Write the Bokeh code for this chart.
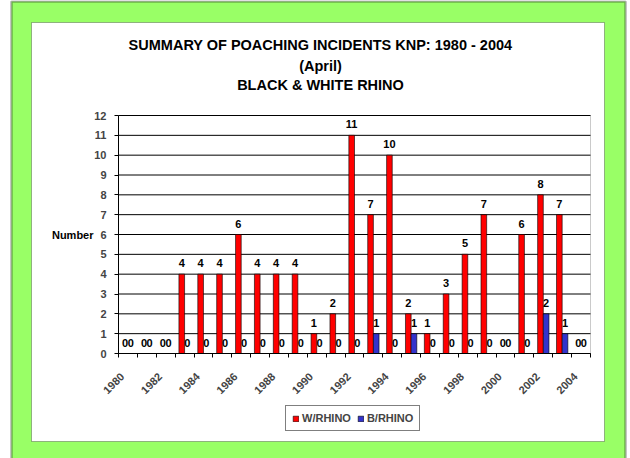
import math
from bokeh.plotting import figure
from bokeh.models import (ColumnDataSource, Range1d, FixedTicker, Legend, LegendItem,
                          LinearAxis, BoxAnnotation, Label)
from bokeh.core.properties import value
from bokeh.embed import file_html
from bokeh.resources import INLINE

# ---- data ----
years = [1980, 1981, 1982, 1983, 1984, 1985, 1986, 1987, 1988, 1989, 1990, 1991, 1992,
         1993, 1994, 1995, 1996, 1997, 1998, 1999, 2000, 2001, 2002, 2003, 2004]
w_rhino = [0, 0, 0, 4, 4, 4, 6, 4, 4, 4, 1, 2, 11, 7, 10, 2, 1, 3, 5, 7, 0, 6, 8, 7, 0]
b_rhino = [0, 0, 0, 0, 0, 0, 0, 0, 0, 0, 0, 0, 0, 1, 0, 1, 0, 0, 0, 0, 0, 0, 2, 1, 0]
tick_years = [1980, 1982, 1984, 1986, 1988, 1990, 1992, 1994, 1996, 1998, 2000, 2002, 2004]
tick_labels = ["1980", "1982", "1984", "1986", "1988", "1990", "1992", "1994", "1996",
               "1998", "2000", "2002", "2004"]
y_ticks = [0, 1, 2, 3, 4, 5, 6, 7, 8, 9, 10, 11, 12]
series_names = ["W/RHINO", "B/RHINO"]
title_lines = ["SUMMARY OF POACHING INCIDENTS KNP: 1980 - 2004", "(April)", "BLACK & WHITE RHINO"]
y_label = "Number"

FONT = "Liberation Sans"
RED = "#FF0000"
BLUE = "#3333CC"
GREEN = "#99FF66"

# ---- layout (canvas pixels) ----
W, H = 630, 458
PL, PR, PT, PB = 118, 590, 115, 353          # plot area inside canvas
x_lo, x_hi = years[0] - 0.5, years[-1] + 0.5
y_lo, y_hi = y_ticks[0], y_ticks[-1]
sx = (PR - PL) / (x_hi - x_lo)
sy = (PB - PT) / (y_hi - y_lo)
X0 = x_lo - PL / sx
X1 = x_hi + (W - PR) / sx
Y0 = y_lo - (H - PB) / sy
Y1 = y_hi + PT / sy
LABEL_SHIFT = 0.3   # rotated year labels sit slightly left of their category centre


def px_x(px):
    return X0 + px / sx


def px_y(py):
    return Y1 - py / sy


bar_w = 0.3
src_w = ColumnDataSource(dict(x=[y - bar_w / 2 for y in years], top=w_rhino,
                              lbl=[str(v) for v in w_rhino]))
src_b = ColumnDataSource(dict(x=[y + bar_w / 2 for y in years], top=b_rhino,
                              lbl=[str(v) for v in b_rhino]))

p = figure(width=W, height=H, x_range=Range1d(X0, X1), y_range=Range1d(Y0, Y1),
           output_backend="svg", toolbar_location=None,
           x_axis_location=None, y_axis_location=None,
           min_border=0, min_border_left=0, min_border_right=0,
           min_border_top=0, min_border_bottom=0, title=None)
p.background_fill_color = "white"
p.border_fill_color = "white"
p.outline_line_color = None
p.xgrid.visible = False
p.ygrid.visible = False

# green outer panel with black border
p.add_layout(BoxAnnotation(left=px_x(11), right=px_x(625), top=px_y(1), bottom=px_y(470),
                           fill_color=GREEN, fill_alpha=1, line_color="black",
                           line_width=2.5, level="image"))
# white chart panel
p.add_layout(BoxAnnotation(left=px_x(31), right=px_x(604), top=px_y(22), bottom=px_y(441),
                           fill_color="white", fill_alpha=1, line_color="black",
                           line_width=1, level="image"))
# plot area border
p.add_layout(BoxAnnotation(left=x_lo, right=x_hi, bottom=y_lo, top=y_hi,
                           fill_alpha=0, line_color="#505050", line_width=1,
                           level="underlay"))

# horizontal gridlines
p.segment(x0=[x_lo] * len(y_ticks), x1=[x_hi] * len(y_ticks), y0=y_ticks, y1=y_ticks,
          line_color="black", line_width=1)

r_w = p.vbar(x="x", top="top", width=bar_w, source=src_w, fill_color=RED,
             line_color="black", line_width=0.6)
r_b = p.vbar(x="x", top="top", width=bar_w, source=src_b, fill_color=BLUE,
             line_color="black", line_width=0.6)

for src in (src_w, src_b):
    p.text(x="x", y="top", text="lbl", source=src, text_font=value(FONT),
           text_font_style="bold", text_font_size="11px", text_color="black",
           text_align="center", text_baseline="middle", y_offset=-11)

# y axis
yax = LinearAxis(fixed_location=x_lo, bounds=(y_lo, y_hi),
                 ticker=FixedTicker(ticks=y_ticks))
yax.axis_line_color = "black"
yax.major_tick_out = 4
yax.major_tick_in = 0
yax.minor_tick_line_color = None
yax.major_label_standoff = 8
yax.major_label_text_font = FONT
yax.major_label_text_font_style = "bold"
yax.major_label_text_font_size = "11px"
p.add_layout(yax, "left")

# x axis
label_pos = [t - LABEL_SHIFT for t in tick_years]
xax = LinearAxis(fixed_location=y_lo, bounds=(x_lo, x_hi),
                 ticker=FixedTicker(ticks=label_pos,
                                    minor_ticks=[y - 0.5 for y in years] + [x_hi]))
xax.major_label_overrides = {t: l for t, l in zip(label_pos, tick_labels)}
xax.axis_line_color = "black"
xax.major_tick_out = 0
xax.major_tick_in = 0
xax.minor_tick_out = 4
xax.minor_tick_in = 0
xax.minor_tick_line_color = "black"
xax.major_label_orientation = math.pi / 4
xax.major_label_standoff = 17
xax.major_label_text_font = FONT
xax.major_label_text_font_style = "bold"
xax.major_label_text_font_size = "11px"
p.add_layout(xax, "below")

# y axis title
p.add_layout(Label(x=px_x(93), y=(y_lo + y_hi) / 2, text=y_label, text_font=FONT,
                   text_font_style="bold", text_font_size="11px", text_align="right",
                   text_baseline="middle", text_color="black"))

# chart title
for line, cy in zip(title_lines, [44, 65, 84]):
    p.add_layout(Label(x=px_x(320), y=px_y(cy), text=line, text_font=FONT,
                       text_font_style="bold", text_font_size="14.5px", text_align="center",
                       text_baseline="middle", text_color="black"))

legend = Legend(items=[LegendItem(label=series_names[0], renderers=[r_w]),
                       LegendItem(label=series_names[1], renderers=[r_b])],
                orientation="horizontal", location=(285, 27),
                border_line_color="black", border_line_width=1,
                background_fill_color="white", background_fill_alpha=1,
                label_text_font=FONT, label_text_font_style="bold",
                label_text_font_size="11px", label_standoff=3,
                glyph_width=7, glyph_height=7, spacing=6, padding=6, margin=0,
                label_height=12)
p.add_layout(legend, "center")

open("out.html", "w").write(file_html(p, INLINE))
